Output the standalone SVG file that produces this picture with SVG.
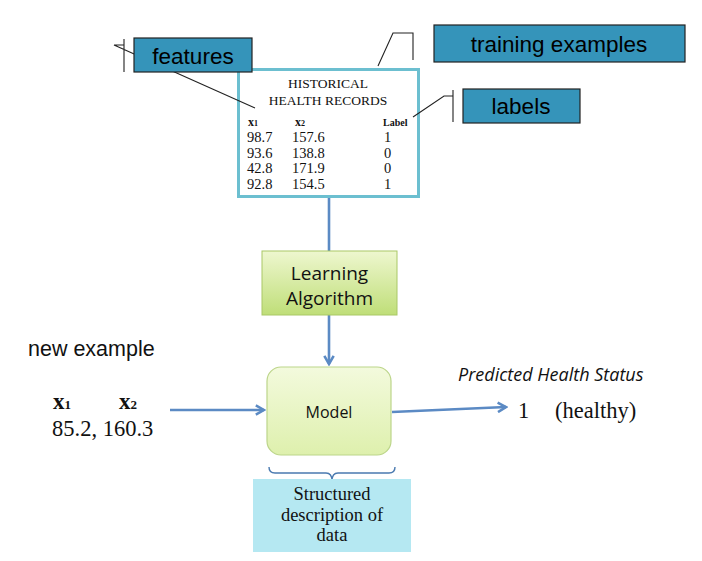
<svg xmlns="http://www.w3.org/2000/svg" width="702" height="561" viewBox="0 0 702 561">
<defs>
<style>
.callout{fill:#3594ba;stroke:#222;stroke-width:1.2}
.ctext{font-family:"Liberation Sans",Arial,sans-serif;font-size:22.5px;fill:#000;text-anchor:middle}
.cline{fill:none;stroke:#222;stroke-width:1.1}
.times{font-family:"Liberation Serif","Times New Roman",serif;fill:#111}
.conn{fill:none;stroke:#5b8ac4;stroke-width:2.6}
.calibri{font-family:"Open Sans","Noto Sans",sans-serif;fill:#111}
</style>
<marker id="ah" viewBox="0 0 10 10" refX="8" refY="5" markerWidth="4.5" markerHeight="4.5" orient="auto" markerUnits="strokeWidth">
<path d="M1,1 L8,5 L1,9" fill="none" stroke="#5b8ac4" stroke-width="2.2"/>
</marker>
<linearGradient id="gLearn" x1="0" y1="0" x2="0" y2="1">
<stop offset="0" stop-color="#eef7cf"/>
<stop offset="1" stop-color="#bfde78"/>
</linearGradient>
<linearGradient id="gModel" x1="0" y1="0" x2="0" y2="1">
<stop offset="0" stop-color="#f3fadd"/>
<stop offset="1" stop-color="#def0ad"/>
</linearGradient>
</defs>
<rect width="702" height="561" fill="#fff"/>

<g id="connectors">
<line class="conn" x1="329" y1="198" x2="329" y2="251"/>
<line class="conn" x1="329" y1="315" x2="329" y2="364" marker-end="url(#ah)"/>
<line class="conn" x1="170" y1="410" x2="264" y2="410" marker-end="url(#ah)"/>
<line class="conn" x1="392" y1="412" x2="506" y2="407" marker-end="url(#ah)"/>
<path d="M269,467 q0,6 6,6 L326,473 q6,0 6,8 q0,-8 6,-8 L389,473 q6,0 6,-6" fill="none" stroke="#4a7ab0" stroke-width="1.4"/>
</g>

<g id="records">
<rect x="238.5" y="69.5" width="180" height="127" fill="#fff" stroke="#6cbfd0" stroke-width="3"/>
<text class="times" x="328" y="88" font-size="13.5" text-anchor="middle">HISTORICAL</text>
<text class="times" x="328" y="105" font-size="13.5" text-anchor="middle">HEALTH RECORDS</text>
<text class="times" x="248" y="126" font-size="12" font-weight="bold">x<tspan font-size="8">1</tspan></text>
<text class="times" x="295" y="126" font-size="12" font-weight="bold">x<tspan font-size="8">2</tspan></text>
<text class="times" x="383" y="126" font-size="10" font-weight="bold">Label</text>
<g class="times" font-size="14.5">
<text x="247" y="142">98.7</text><text x="292" y="142">157.6</text><text x="384" y="142">1</text>
<text x="247" y="158">93.6</text><text x="292" y="158">138.8</text><text x="384" y="158">0</text>
<text x="247" y="173">42.8</text><text x="292" y="173">171.9</text><text x="384" y="173">0</text>
<text x="247" y="189">92.8</text><text x="292" y="189">154.5</text><text x="384" y="189">1</text>
</g>
</g>

<g id="features">
<path class="cline" d="M124,39 V72 M124,45 H114 L255,108"/>
<rect class="callout" x="134" y="38" width="118" height="34"/>
<text class="ctext" x="193" y="64">features</text>
</g>

<g id="training">
<path class="cline" d="M413,60 V33 H393 L378,66"/>
<rect class="callout" x="434" y="25" width="251" height="37"/>
<text class="ctext" x="559" y="52">training examples</text>
</g>

<g id="labels">
<path class="cline" d="M453,90 V122 M453,96 H444 L413,117"/>
<rect class="callout" x="463" y="89" width="117" height="34"/>
<text class="ctext" x="521" y="114">labels</text>
</g>

<g id="learning">
<rect x="262" y="251" width="135" height="64" fill="url(#gLearn)" stroke="#a9c867" stroke-width="1"/>
<text class="calibri" x="329.5" y="280" font-size="19" text-anchor="middle">Learning</text>
<text class="calibri" x="329.5" y="305" font-size="19" text-anchor="middle">Algorithm</text>
</g>

<g id="newexample">
<text x="28" y="356" font-family="'Liberation Sans',Arial,sans-serif" font-size="21.5" fill="#111">new example</text>
<text class="times" x="53" y="409" font-size="23" font-weight="bold">x<tspan font-size="13">1</tspan></text>
<text class="times" x="119" y="409" font-size="23" font-weight="bold">x<tspan font-size="13">2</tspan></text>
<text class="times" x="52" y="436" font-size="22.5">85.2, 160.3</text>
</g>

<g id="model">
<rect x="267" y="367" width="124" height="88" rx="14" fill="url(#gModel)" stroke="#bcd58a" stroke-width="1.2"/>
<text class="calibri" x="329" y="418" font-size="16" text-anchor="middle">Model</text>
</g>

<g id="output">
<text class="calibri" x="458" y="381" font-size="18" font-style="italic">Predicted Health Status</text>
<text class="times" x="518" y="418" font-size="22.5">1</text>
<text class="times" x="555" y="418" font-size="22.5">(healthy)</text>
</g>

<g id="description">
<rect x="253" y="479" width="158" height="73" fill="#b5e8f2"/>
<g class="times" font-size="18.5" text-anchor="middle">
<text x="332" y="500">Structured</text>
<text x="332" y="521">description of</text>
<text x="332" y="541">data</text>
</g>
</g>
</svg>
